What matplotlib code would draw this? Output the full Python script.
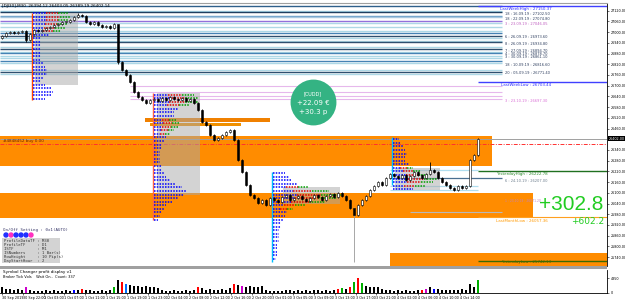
import matplotlib
matplotlib.use("Agg")
import numpy as np
import matplotlib.pyplot as plt
from matplotlib.patches import Rectangle, Ellipse
from matplotlib.ticker import FixedLocator, FormatStrFormatter

W, H = 625, 301

# ---- price data (M30 bars) ----
first_open = 26967
closes = [
    26978, 26995, 27001, 26995, 27001, 27006, 26956, 26990, 27012, 27006,
    27012, 27023, 27029, 27040, 27046, 27057, 27057, 27068, 27085, 27096,
    27090, 27057, 27046, 27057, 27040, 27029, 27034, 27023, 27046, 26833,
    26788, 26760, 26721, 26665, 26637, 26620, 26603, 26620, 26626, 26614,
    26631, 26620, 26637, 26626, 26620, 26631, 26614, 26626, 26603, 26564,
    26497, 26480, 26424, 26396, 26407, 26424, 26441, 26452, 26396, 26284,
    26217, 26144, 26088, 26071, 26043, 26060, 26032, 26071, 26060, 26049,
    26077, 26088, 26060, 26071, 26082, 26066, 26054, 26071, 26088, 26077,
    26060, 26082, 26094, 26077, 26099, 26082, 26060, 26015, 25976, 26032,
    26060, 26082, 26116, 26138, 26161, 26144, 26183, 26206, 26194, 26183,
    26200, 26172, 26194, 26217, 26200, 26183, 26206, 26230, 26217, 26183,
    26161, 26144, 26127, 26116, 26138, 26127, 26138, 26284, 26312, 26402,
]
extra_high = {19: 27107, 29: 27040, 107: 26273}
extra_low = {6: 26945, 29: 26820, 88: 25713}

volumes = [
    1800, 1200, 1200, 900, 1200, 900, 1800, 900, 600, 600,
    600, 900, 600, 900, 600, 600, 900, 600, 900, 900,
    1200, 900, 900, 600, 600, 900, 600, 900, 2100, 4200,
    3600, 3000, 2700, 2400, 2400, 2100, 2400, 1800, 2100, 1500,
    900, 600, 600, 900, 600, 600, 900, 600, 900, 1800,
    1500, 900, 1200, 900, 900, 1200, 900, 1500, 3000, 2700,
    2400, 2100, 2400, 1800, 2100, 2400, 900, 600, 600, 600,
    600, 900, 900, 600, 900, 600, 900, 600, 900, 900,
    600, 900, 600, 900, 1200, 1500, 1200, 1800, 3600, 4800,
    3300, 2400, 2100, 1800, 1800, 1200, 900, 900, 600, 900,
    600, 900, 600, 600, 900, 900, 1200, 1800, 1200, 1200,
    900, 900, 900, 900, 900, 1200, 900, 3000, 1800, 4200,
]
vol_highlight = {6: "#CC00CC", 18: "#0000FF", 20: "#FF0000", 28: "#00B000",
                 30: "#FF0000", 31: "#0070FF", 49: "#FF0000", 58: "#FF0000",
                 60: "#CC00CC", 84: "#FF0000", 85: "#00B000", 87: "#FF0000",
                 88: "#00B000", 89: "#FF0000", 90: "#00B000", 105: "#FF0000",
                 106: "#CC00CC", 108: "#0000FF", 119: "#00B000"}

time_labels = ["30 Sep 2019", "30 Sep 22:00", "1 Oct 03:00", "1 Oct 07:00",
               "1 Oct 11:00", "1 Oct 15:00", "1 Oct 19:00", "1 Oct 23:00",
               "2 Oct 04:00", "2 Oct 08:00", "2 Oct 12:00", "2 Oct 16:00",
               "2 Oct 20:00", "3 Oct 01:00", "3 Oct 05:00", "3 Oct 09:00",
               "3 Oct 13:00", "3 Oct 17:00", "3 Oct 21:00", "4 Oct 02:00",
               "4 Oct 06:00", "4 Oct 10:00", "4 Oct 14:00"]

# ---- horizontal levels ----
upper_levels = [27146, 27118, 27110, 27090, 27082, 27064, 27051, 27029, 27006,
                26995, 26978, 26967, 26950, 26945, 26917, 26906, 26889, 26883,
                26866, 26855, 26838, 26827, 26788, 26777, 26766]
upper_colors = ["#2F5F8A", "#A8D8EA", "#1F3F60", "#6A9FC8", "#A8C8E0", "#9370DB",
                "#ADD8E6", "#ADD8E6", "#ADD8E6", "#4682B4", "#2F4F6F", "#ADD8E6",
                "#ADD8E6", "#2F4F6F", "#ADD8E6", "#2F4F6F", "#ADD8E6", "#4682B4",
                "#ADD8E6", "#ADD8E6", "#4682B4", "#ADD8E6", "#ADD8E6", "#2F4F6F",
                "#ADD8E6"]
level_text_prices = [27102, 27074, 27046, 26973, 26934, 26894, 26878, 26861, 26816, 26771]
level_texts = ["18 : 16.09.19 : 27102.50", "18 : 22.09.19 : 27074.80",
               "3 : 23.09.19 : 27046.05", "6 : 26.09.19 : 26973.60",
               "8 : 26.09.19 : 26934.80", "7 : 27.09.19 : 26894.70",
               "4 : 30.09.19 : 26878.70", "3 : 30.09.19 : 26861.10",
               "18 : 10.09.19 : 26816.60", "20 : 05.09.19 : 26771.40"]
pink_levels = [26698, 26665, 26642, 26626]
lower_levels = [26228, 26183, 26138, 26116]

band_tops = [26418, 26099, 25763]
band_bottoms = [26250, 25959, 25680]
band_starts = [-0.5, -0.5, 97]
band_ends = [122.5, 132.75, 152]

box_tops = [27107, 26659, 26133, 26239]
box_bottoms = [26704, 26088, 26035, 26116]
box_starts = [8.25, 38.75, 70.25, 98.25]
box_ends = [19, 49.5, 84.5, 109.5]

# volume profiles: start bar, top price (rows every 20 points), row widths in bars
prof_start = [7.75, 38, 67.75, 97.75]
prof_top = [27105, 26650, 26210, 26400]
prof_widths = [
    [9, 9.5, 9, 8.5, 8, 7, 4, 2, 2, 2, 2, 2, 2, 2, 2.5, 3, 3.5, 3.5, 2.5, 2, 3, 4.5, 5, 4.5, 3],
    [10, 11, 11, 9, 6, 5, 5, 5.5, 6.5, 6, 5, 4, 3, 2.5, 2, 2, 1.5, 1.5, 1.5, 1.5, 2, 2,
     2.5, 3, 4, 5.5, 7, 8, 7.5, 6, 4.5, 3, 2.5, 2, 1.5, 1],
    [3, 4, 4.5, 6, 9, 14, 17, 16, 13, 8, 5, 3.5, 3, 2.5, 2, 2, 1.5, 1.5, 1.5, 1.5, 1, 1, 1, 1, 0.8],
    [1.5, 2, 2.5, 3, 3.5, 3, 3, 4, 5, 7, 9, 11, 10, 8, 5],
]
prof_hot = [range(0, 6), list(range(0, 4)) + list(range(7, 12)), range(4, 11), range(8, 14)]
prof_vline_top = [27107, 26659, 26217, 26413]
prof_vline_bottom = [26620, 25948, 25713, 26144]
prof_vline_color = ["#FF4500", "#FF6347", "#00BFFF", "#00BFFF"]

fig = plt.figure(figsize=(W / 100, H / 100), dpi=100)
ax = fig.add_axes([0, 35 / H, 607 / W, 263 / H])
ax2 = fig.add_axes([0, 8 / H, 607 / W, 23 / H])

xmax = 151.25
ax.set_xlim(-0.5, xmax)
ax.set_ylim(25690, 27163)

# bands
for t, b, s, e in zip(band_tops, band_bottoms, band_starts, band_ends):
    ax.add_patch(Rectangle((s, b), e - s, t - b, color="#FF8C00", lw=0, zorder=1))

# level lines
for p, c in zip(upper_levels, upper_colors):
    ax.hlines(p, -0.5, 125, color=c, lw=1.0, zorder=2)
for p, t in zip(level_text_prices, level_texts):
    col = "#C060C0" if t.startswith("3 : 23") else "#304060"
    ax.text(125.8, p, t, fontsize=2.6, color=col, va="center", zorder=7)
for p in pink_levels:
    ax.hlines(p, 32, 125, color="#E6B8EC", lw=0.8, zorder=2)
for p in lower_levels:
    col = "#4A6F90" if p == 26183 else "#B0DDEE"
    ax.hlines(p, 97, 125 if p == 26183 else 119, color=col, lw=0.9, zorder=2)
ax.hlines(25993, 102, 125, color="#B8B8B8", lw=0.8, zorder=2)

# right-side key levels
ax.hlines(27146, 119, xmax, color="#4040FF", lw=1.0, zorder=2)
ax.text(131, 27132, "LastWeekHigh : 27150.37", fontsize=2.9, color="#3030FF", ha="center", va="center")
ax.hlines(26721, 119, xmax, color="#4040FF", lw=1.0, zorder=2)
ax.text(131, 26704, "LastWeekLow : 26703.44", fontsize=2.9, color="#3030FF", ha="center", va="center")
ax.hlines(26222, 119, xmax, color="#207020", lw=1.0, zorder=2)
ax.text(130, 26204, "YesterdayHigh : 26222.78", fontsize=2.9, color="#2E8B2E", ha="center", va="center")
ax.hlines(25965, 119, xmax, color="#FFA020", lw=0.8, zorder=2)
ax.text(130, 25942, "LastMonthLow : 26057.36", fontsize=2.9, color="#FF9900", ha="center", va="center")
ax.hlines(25718, 119, xmax, color="#3A6A00", lw=1.0, zorder=2)
ax.text(131, 25713, "YesterdayLow : 25742.13", fontsize=2.9, color="#4A6A00", ha="center", va="center")
ax.text(125.8, 26614, "3 : 23.10.19 : 26697.30", fontsize=2.6, color="#DA70D6", va="center")
ax.text(125.8, 26166, "6 : 24.10.19 : 26207.00", fontsize=2.6, color="#708090", va="center")
ax.text(125.8, 26052, "1 : 23.10.19 : 26071.20", fontsize=2.2, color="#C080C0", va="center")

# short orange bars
ax.add_patch(Rectangle((35.75, 26497), 31.25, 22, color="#F08000", lw=0, zorder=2))
ax.add_patch(Rectangle((37, 26474), 22.75, 17, color="#F09000", lw=0, zorder=2))

# price lines
ax.hlines(26374, -0.5, xmax, color="#FF3030", lw=0.7, linestyles=(0, (4, 1.5, 1, 1.5)), zorder=3)
ax.hlines(closes[-1], -0.5, xmax, color="#A0A0A0", lw=0.7, zorder=3)
ax.text(0.3, 26392, "#4848452 buy 0.00", fontsize=3, color="#662200", va="center", zorder=7)

# value area boxes
for t, b, s, e in zip(box_tops, box_bottoms, box_starts, box_ends):
    ax.add_patch(Rectangle((s, b), e - s, t - b, color="#A9A9A9", alpha=0.5, lw=0, zorder=3))

# volume profiles
for k in range(4):
    x0 = prof_start[k]
    ax.vlines(x0 - 0.25, prof_vline_bottom[k], prof_vline_top[k], color=prof_vline_color[k], lw=1.0, zorder=4)
    for j, w in enumerate(prof_widths[k]):
        p = prof_top[k] - 20 * j
        if j in prof_hot[k]:
            ax.hlines(p, x0, x0 + 0.35 * w, color="#0000FF", lw=1.1, linestyles=(0, (1, 0.8)), zorder=4)
            ax.hlines(p, x0 + 0.35 * w, x0 + 0.7 * w, color="#E00000", lw=1.1, linestyles=(0, (1, 0.8)), zorder=4)
            ax.hlines(p, x0 + 0.7 * w, x0 + w, color="#00A000", lw=1.1, linestyles=(0, (1, 0.8)), zorder=4)
        else:
            ax.hlines(p, x0, x0 + w, color="#0000FF", lw=1.1, linestyles=(0, (1, 0.8)), zorder=4)

# candles
opens = [first_open] + closes[:-1]
for i, (o, c) in enumerate(zip(opens, closes)):
    hi = extra_high.get(i, max(o, c) + 6)
    lo = extra_low.get(i, min(o, c) - 6)
    ax.vlines(i, lo, hi, color="#999999" if i == 88 else "black", lw=0.6, zorder=5)
    face = "white" if c >= o else "black"
    ax.bar(i, max(abs(c - o), 3), bottom=min(o, c), width=0.55, color=face,
           edgecolor="black", linewidth=0.4, zorder=6)

# profit bubble
ax.scatter([77.75], [26609], s=1090, color="#34B383", zorder=8, linewidths=0)
ax.text(77.75, 26654, "[CUDD]", fontsize=3.5, color="white", ha="center", va="center", zorder=9)
ax.text(77.75, 26603, "+22.09 €", fontsize=5, color="white", ha="center", va="center", zorder=9)
ax.text(77.75, 26553, "+30.3 p", fontsize=5, color="white", ha="center", va="center", zorder=9)

ax.text(142.3, 26032, "+302.8", fontsize=15, family="Liberation Sans", color="#22CC22",
        ha="center", va="center", zorder=9)
ax.text(146.5, 25940, "+602.2", fontsize=6.5, color="#22CC22", ha="center", va="center", zorder=9)

# axis styling
ticks = [t for t in np.arange(25740, 27161, 60) if abs(t - closes[-1]) > 25]
ax.yaxis.tick_right()
ax.yaxis.set_major_locator(FixedLocator(ticks))
ax.yaxis.set_major_formatter(FormatStrFormatter("%.2f"))
ax.tick_params(axis="y", labelsize=2.4, length=1.5, width=0.4, pad=1)
ax.set_xticks([])
for s in ["left", "bottom"]:
    ax.spines[s].set_visible(False)
ax.spines["top"].set_color("#A0A0A0")
ax.spines["right"].set_linewidth(0.6)
ax.text(1.003, closes[-1], "%.2f" % closes[-1], transform=ax.get_yaxis_transform(),
        fontsize=2.4, color="white", va="center", ha="left",
        bbox=dict(boxstyle="square,pad=0.15", fc="black", ec="none"), clip_on=False, zorder=10)

# volume panel
ax2.set_xlim(-0.5, xmax)
ax2.set_ylim(0, 7500)
cols = [vol_highlight.get(i, "black") for i in range(len(volumes))]
ax2.bar(range(len(volumes)), volumes, width=0.6, color=cols)
ax2.yaxis.tick_right()
ax2.set_yticks([0, 4850])
ax2.tick_params(axis="y", labelsize=2.4, length=1.5, width=0.4, pad=1)
ax2.set_xticks([5.2 * k for k in range(len(time_labels))])
ax2.set_xticklabels(time_labels, ha="left")
ax2.tick_params(axis="x", labelsize=2.4, length=1.5, width=0.4, pad=0.8)
ax2.spines["left"].set_visible(False)
ax2.spines["top"].set_visible(False)
ax2.spines["right"].set_linewidth(0.6)
ax2.spines["bottom"].set_linewidth(0.6)

# separator between panels
fig.add_artist(Rectangle((0, 1 - 269 / H), 607 / W, 3 / H, transform=fig.transFigure,
                         color="#A0A0A0", lw=0))

# overlay texts
fig.text(2 / W, 1 - 6 / H, "[DJI30],M30  26394.12 26403.05 26389.19 26402.14", fontsize=3, va="center")
fig.text(3 / W, 1 - 272 / H, "Symbol Changer profit display v1", fontsize=3, va="center")
fig.text(3 / W, 1 - 277 / H, "Broker Tick Vols    Wait On..  Count: 337", fontsize=2.6, va="center")

mono = "DejaVu Sans Mono"
fig.text(3 / W, 1 - 230 / H, "On/Off Setting : 0x1(AUTO)", fontsize=3, family=mono, color="#333366", va="center")
for k, c in enumerate(["#2030FF", "#FF30C0", "#2030FF", "#2030FF", "#2030FF", "#FF30C0"]):
    fig.add_artist(Ellipse(((6 + 5 * k) / W, 1 - 235 / H), 4 / W, 4 / H, transform=fig.transFigure, color=c))
fig.add_artist(Rectangle((2 / W, 1 - 263 / H), 58 / W, 25 / H, transform=fig.transFigure, color="#D3D3D3", lw=0))
info = ["ProfileDataTF : M30", "ProfileTF     : D1", "ISTF          : M1",
        "ISNumbers     : 1 Bar(s)", "RowHeight     : 10 Pip(s)", "DayStartHour  : 2"]
for k, line in enumerate(info):
    fig.text(4 / W, 1 - (241 + 4 * k) / H, line, fontsize=2.8, family=mono, color="#333333", va="center")

fig.savefig("out.png", dpi=100)
